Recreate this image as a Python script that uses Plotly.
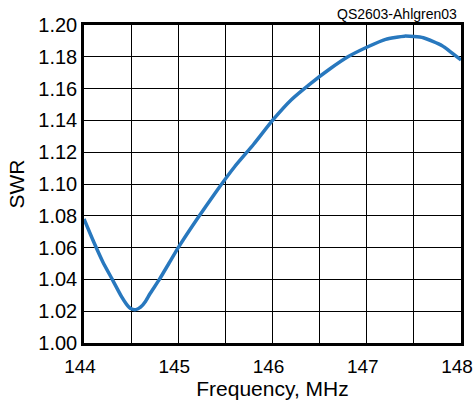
import plotly.graph_objects as go

freq = [144.0, 144.1, 144.2, 144.3, 144.4, 144.45, 144.5, 144.55, 144.6, 144.65, 144.7, 144.8, 144.9,
        145.0, 145.2, 145.4, 145.6, 145.8, 146.0, 146.2, 146.4, 146.6, 146.8,
        147.0, 147.2, 147.4, 147.6, 147.8, 148.0]
swr = [1.078, 1.064, 1.051, 1.040, 1.029, 1.0245, 1.0215, 1.021, 1.0225, 1.026, 1.031, 1.040, 1.050,
       1.060, 1.078, 1.095, 1.111, 1.125, 1.140, 1.153, 1.163, 1.172, 1.180,
       1.186, 1.191, 1.193, 1.192, 1.187, 1.178]
x_ticks = [144, 145, 146, 147, 148]
y_ticks = [1.00, 1.02, 1.04, 1.06, 1.08, 1.10, 1.12, 1.14, 1.16, 1.18, 1.20]

fig = go.Figure()
fig.add_trace(go.Scatter(x=freq, y=swr, mode="lines",
                         line=dict(color="#2878BE", width=3.5, shape="spline", smoothing=0.5),
                         showlegend=False, hoverinfo="skip"))

font = "Liberation Sans, Arial, Helvetica, sans-serif"
fig.update_layout(
    width=473, height=404,
    margin=dict(l=84, r=12, t=25, b=61),
    paper_bgcolor="white", plot_bgcolor="white",
    font=dict(family=font, size=20, color="black"),
    xaxis=dict(range=[144, 148], tickvals=x_ticks, ticktext=[str(v) for v in x_ticks],
               automargin=False, ticklabeloverflow="allow", ticklabelstandoff=4,
               ticklabelshift=-4, tickfont=dict(size=19),
               showgrid=True, gridcolor="black", gridwidth=1,
               minor=dict(dtick=0.5, showgrid=True, gridcolor="black", gridwidth=1),
               showline=True, linecolor="black", linewidth=2.5, mirror=True,
               ticks="", zeroline=False,
               title=dict(text="Frequency, MHz", font=dict(size=21), standoff=2)),
    yaxis=dict(range=[1.00, 1.20], tickvals=y_ticks, ticktext=["%.2f" % v for v in y_ticks],
               automargin=False, ticklabeloverflow="allow",
               showgrid=True, gridcolor="black", gridwidth=1,
               showline=True, linecolor="black", linewidth=2.5, mirror=True,
               ticks="", zeroline=False,
               title=dict(text="SWR", font=dict(size=21), standoff=8)),
    annotations=[dict(text="QS2603-Ahlgren03", xref="paper", yref="paper", x=1.0, y=1.0,
                      xanchor="right", yanchor="bottom", showarrow=False, xshift=-2, yshift=1,
                      font=dict(size=14, family=font))],
)
fig.write_html("out.html", config={"displayModeBar": False},
               post_script="document.body.style.margin='0';document.body.style.overflow='hidden';")
